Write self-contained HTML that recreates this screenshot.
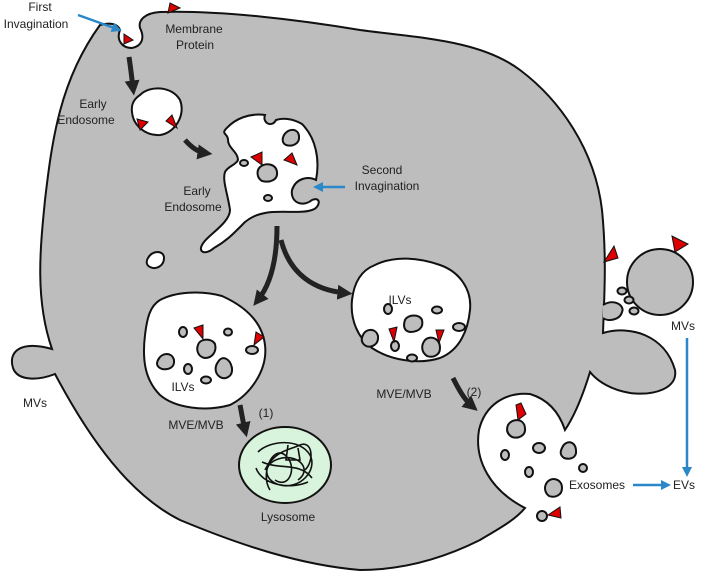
<!DOCTYPE html>
<html><head><meta charset="utf-8"><style>
html,body{margin:0;padding:0;background:#fff}
svg{display:block}
text{font-family:"Liberation Sans",sans-serif;font-size:12px;fill:#222}
</style></head><body>
<svg width="709" height="576" viewBox="0 0 709 576" xmlns="http://www.w3.org/2000/svg">
<defs>
<marker id="ab" viewBox="0 0 10 10" refX="5" refY="5" markerWidth="3" markerHeight="3" orient="auto"><path d="M0,0L10,5L0,10Z" fill="#222"/></marker>
<marker id="bb" viewBox="0 0 10 10" refX="5" refY="5" markerWidth="4" markerHeight="4" orient="auto"><path d="M0,0L10,5L0,10Z" fill="#2a87c8"/></marker>
</defs>
<path d="M100,25 C110,22 118,24 120,30 C116,40 122,48 132,48 C142,46 145,38 140,28 C138,20 145,13 160,12 C220,10 300,20 360,30 C420,38 480,40 520,70 C560,100 595,150 602,210 C607,260 604,300 603,333 C630,325 665,335 675,370 C678,388 655,396 630,393 C612,390 598,382 590,372 C583,395 575,415 565,430 C560,415 550,400 530,394 C505,392 485,405 479,430 C474,460 490,490 525,508 C515,520 500,528 480,540 C440,560 400,570 360,570 C300,565 240,545 180,520 C130,495 90,440 55,374 C40,380 18,382 13,368 C8,352 20,340 52,349 C35,300 40,250 45,200 C52,140 60,80 100,25 Z" fill="#bdbdbd" stroke="#111" stroke-width="2"/>
<circle cx="660" cy="282" r="33" fill="#bdbdbd" stroke="#111" stroke-width="2"/>
<path d="M675,252 L672,236 L688,244 Z" fill="#d00" stroke="#111" stroke-width="1"/>
<path d="M603,305 C615,298 625,306 622,312 C620,320 608,322 603,318" fill="#bdbdbd" stroke="#111" stroke-width="2"/>
<ellipse cx="622" cy="291" rx="4.5" ry="3.5" fill="#bdbdbd" stroke="#111" stroke-width="2"/>
<ellipse cx="629" cy="300" rx="4.5" ry="3.5" fill="#bdbdbd" stroke="#111" stroke-width="2"/>
<ellipse cx="634" cy="311" rx="4.5" ry="3.5" fill="#bdbdbd" stroke="#111" stroke-width="2"/>
<path d="M604,262 L614,246 L618,258 Z" fill="#d00" stroke="#111" stroke-width="1"/>
<path d="M168,13 L170,3 L180,8 Z" fill="#d00" stroke="#111" stroke-width="1"/>
<path d="M124,44 L124,34 L133,40 Z" fill="#d00" stroke="#111" stroke-width="1"/>
<path d="M140,95 C150,85 172,86 180,100 C186,115 175,133 160,135 C145,136 133,125 132,112 C131,104 134,99 140,95Z" fill="#fff" stroke="#111" stroke-width="2"/>
<path d="M140,130 L137,119 L148,122 Z" fill="#d00" stroke="#111" stroke-width="1"/>
<path d="M177,128 L166,121 L172,115 Z" fill="#d00" stroke="#111" stroke-width="1"/>
<path d="M225,130 C235,118 250,113 265,115 C262,123 272,128 276,120 C282,118 292,118 302,124 C316,138 320,160 316,180 C308,176 296,178 292,190 C290,202 302,208 312,200 C322,196 320,208 312,210 C300,214 280,210 265,213 C255,215 250,218 245,222 C235,232 228,240 214,248 C205,256 196,252 204,242 C210,234 230,222 230,210 C228,195 222,180 225,172 C228,166 236,165 238,160 C238,152 228,148 228,140 C228,134 222,134 225,130Z" fill="#fff" stroke="#111" stroke-width="2"/>
<path d="M284,135 C288,128 298,128 299,136 C300,144 292,147 286,145 C282,143 282,139 284,135Z" fill="#bdbdbd" stroke="#111" stroke-width="2"/>
<path d="M260,167 C266,162 276,164 277,172 C278,180 270,183 262,181 C257,178 256,171 260,167Z" fill="#bdbdbd" stroke="#111" stroke-width="2"/>
<ellipse cx="244" cy="163" rx="4" ry="3" fill="#bdbdbd" stroke="#111" stroke-width="2"/>
<ellipse cx="268" cy="198" rx="4" ry="3" fill="#bdbdbd" stroke="#111" stroke-width="2"/>
<path d="M251,157 L262,152 L262,165 Z" fill="#d00" stroke="#111" stroke-width="1"/>
<path d="M284,160 L292,153 L297,165 Z" fill="#d00" stroke="#111" stroke-width="1"/>
<path d="M148,258 C152,250 164,250 164,258 C164,266 156,270 150,267 C146,265 146,261 148,258Z" fill="#fff" stroke="#111" stroke-width="2"/>
<path d="M160,300 C175,292 200,290 222,296 C242,305 262,320 265,345 C268,370 250,395 230,405 C205,412 175,408 160,395 C145,380 142,360 145,335 C147,318 150,306 160,300Z" fill="#fff" stroke="#111" stroke-width="2"/>
<ellipse cx="183" cy="332" rx="4" ry="5" fill="#bdbdbd" stroke="#111" stroke-width="2"/>
<ellipse cx="228" cy="332" rx="4" ry="3.5" fill="#bdbdbd" stroke="#111" stroke-width="2"/>
<path d="M198,345 C200,338 212,338 215,344 C217,352 212,358 205,358 C198,357 196,350 198,345Z" fill="#bdbdbd" stroke="#111" stroke-width="2"/>
<ellipse cx="252" cy="350" rx="6" ry="4" fill="#bdbdbd" stroke="#111" stroke-width="2"/>
<path d="M158,360 C162,352 172,352 174,360 C175,368 168,370 162,369 C157,367 156,364 158,360Z" fill="#bdbdbd" stroke="#111" stroke-width="2"/>
<ellipse cx="188" cy="369" rx="4" ry="5" fill="#bdbdbd" stroke="#111" stroke-width="2"/>
<path d="M218,362 C222,355 230,358 232,368 C233,377 225,380 220,377 C214,373 215,366 218,362Z" fill="#bdbdbd" stroke="#111" stroke-width="2"/>
<ellipse cx="206" cy="380" rx="5" ry="3.5" fill="#bdbdbd" stroke="#111" stroke-width="2"/>
<path d="M194,328 L203,325 L203,339 Z" fill="#d00" stroke="#111" stroke-width="1"/>
<path d="M254,345 L256,332 L264,337 Z" fill="#d00" stroke="#111" stroke-width="1"/>
<path d="M375,265 C395,255 420,258 440,265 C460,272 472,290 470,310 C468,330 460,350 440,358 C418,365 390,360 372,348 C358,338 350,320 352,300 C354,282 362,270 375,265Z" fill="#fff" stroke="#111" stroke-width="2"/>
<ellipse cx="388" cy="309" rx="4" ry="5" fill="#bdbdbd" stroke="#111" stroke-width="2"/>
<ellipse cx="437" cy="310" rx="5" ry="3.5" fill="#bdbdbd" stroke="#111" stroke-width="2"/>
<path d="M405,320 C408,314 420,314 422,320 C424,328 418,332 410,332 C404,331 403,326 405,320Z" fill="#bdbdbd" stroke="#111" stroke-width="2"/>
<ellipse cx="459" cy="327" rx="6" ry="4" fill="#bdbdbd" stroke="#111" stroke-width="2"/>
<path d="M363,335 C366,328 376,328 378,336 C379,345 371,348 366,346 C361,343 361,339 363,335Z" fill="#bdbdbd" stroke="#111" stroke-width="2"/>
<ellipse cx="395" cy="346" rx="4" ry="5" fill="#bdbdbd" stroke="#111" stroke-width="2"/>
<path d="M425,340 C430,335 440,338 440,348 C440,356 432,358 427,356 C421,352 421,345 425,340Z" fill="#bdbdbd" stroke="#111" stroke-width="2"/>
<ellipse cx="412" cy="358" rx="5" ry="3.5" fill="#bdbdbd" stroke="#111" stroke-width="2"/>
<path d="M389,329 L397,327 L394,342 Z" fill="#d00" stroke="#111" stroke-width="1"/>
<path d="M436,330 L444,330 L439,343 Z" fill="#d00" stroke="#111" stroke-width="1"/>
<path d="M508,425 C512,418 524,418 525,428 C526,436 518,439 512,437 C507,434 506,430 508,425Z" fill="#bdbdbd" stroke="#111" stroke-width="2"/>
<path d="M516,405 L521,403 L526,414 L518,420Z" fill="#d00" stroke="#111" stroke-width="1"/>
<ellipse cx="539" cy="448" rx="6" ry="5" fill="#bdbdbd" stroke="#111" stroke-width="2"/>
<path d="M562,448 C565,440 575,440 576,450 C577,458 570,460 564,458 C560,455 560,452 562,448Z" fill="#bdbdbd" stroke="#111" stroke-width="2"/>
<ellipse cx="505" cy="455" rx="4" ry="5" fill="#bdbdbd" stroke="#111" stroke-width="2"/>
<ellipse cx="529" cy="472" rx="4" ry="5" fill="#bdbdbd" stroke="#111" stroke-width="2"/>
<ellipse cx="583" cy="468" rx="4" ry="4" fill="#bdbdbd" stroke="#111" stroke-width="2"/>
<path d="M546,484 C550,476 562,478 562,488 C562,496 554,498 549,496 C545,493 544,488 546,484Z" fill="#bdbdbd" stroke="#111" stroke-width="2"/>
<ellipse cx="542" cy="516" rx="5" ry="5" fill="#bdbdbd" stroke="#111" stroke-width="2"/>
<path d="M548,515 L560,507 L561,518Z" fill="#d00" stroke="#111" stroke-width="1"/>
<ellipse cx="285" cy="465" rx="46" ry="38" fill="#d8f4dc" stroke="#111" stroke-width="2"/>
<path d="M258,452 C270,440 300,438 310,455 C318,470 300,490 280,485 C262,480 262,462 282,458 C300,455 312,470 298,480 M265,470 C275,450 290,450 300,445 C312,440 315,460 305,470 M270,490 C260,475 272,445 285,455 C298,465 290,490 275,480 M288,445 L286,460 L300,460 L298,448 M262,462 C280,470 300,462 312,478 M256,468 C262,485 290,490 308,482" fill="none" stroke="#111" stroke-width="1.6"/>
<g fill="none" stroke="#222" stroke-width="5" marker-end="url(#ab)">
<path d="M129,57 C131,70 132,80 133,88"/>
<path d="M185,140 C192,148 198,152 205,153"/>
<path d="M277,226 C277,260 270,285 258,300"/>
<path d="M281,240 C290,275 315,290 345,293"/>
<path d="M240,405 C242,415 243,422 245,430"/>
<path d="M453,378 C460,392 465,400 472,406"/>
</g>
<g fill="none" stroke="#2a87c8" stroke-width="2.5" marker-end="url(#bb)">
<path d="M78,15 L117,29"/>
<path d="M345,187 L318,187"/>
<path d="M687,338 L687,472"/>
<path d="M633,485 L666,485"/>
</g>
<text x="40" y="11" text-anchor="middle">First</text>
<text x="36" y="28" text-anchor="middle">Invagination</text>
<text x="194" y="33" text-anchor="middle">Membrane</text>
<text x="195" y="49" text-anchor="middle">Protein</text>
<text x="93" y="108" text-anchor="middle">Early</text>
<text x="86" y="124" text-anchor="middle">Endosome</text>
<text x="197" y="195" text-anchor="middle">Early</text>
<text x="193" y="211" text-anchor="middle">Endosome</text>
<text x="382" y="174" text-anchor="middle">Second</text>
<text x="387" y="190" text-anchor="middle">Invagination</text>
<text x="400" y="304" text-anchor="middle">ILVs</text>
<text x="183" y="391" text-anchor="middle">ILVs</text>
<text x="196" y="429" text-anchor="middle">MVE/MVB</text>
<text x="266" y="417" text-anchor="middle">(1)</text>
<text x="404" y="398" text-anchor="middle">MVE/MVB</text>
<text x="474" y="396" text-anchor="middle">(2)</text>
<text x="288" y="521" text-anchor="middle">Lysosome</text>
<text x="35" y="407" text-anchor="middle">MVs</text>
<text x="683" y="330" text-anchor="middle">MVs</text>
<text x="569" y="489">Exosomes</text>
<text x="673" y="489">EVs</text>
</svg>
</body></html>
